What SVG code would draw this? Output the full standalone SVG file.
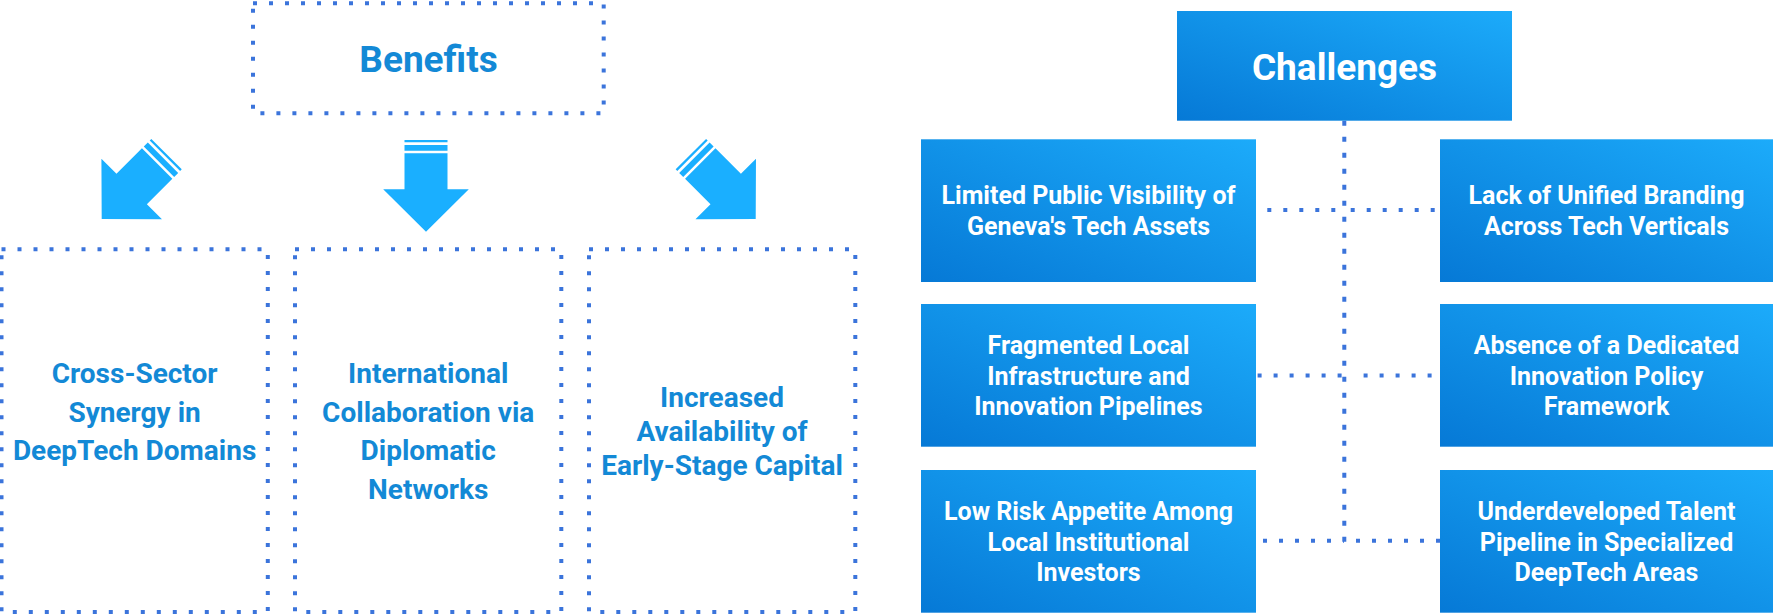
<svg xmlns="http://www.w3.org/2000/svg" width="1773" height="616" viewBox="0 0 1773 616">
<defs>
<linearGradient id="bg" x1="0" y1="1" x2="1" y2="0">
<stop offset="0" stop-color="#0679d6"/>
<stop offset="1" stop-color="#1cabfa"/>
</linearGradient>
<path id="arrow" d="M-21.5,-78.4 H21.5 V-42.4 H42.8 L0,0 L-42.8,-42.4 H-21.5 Z M-21.5,-86.7 H21.5 V-81 H-21.5 Z M-21.5,-91.7 H21.5 V-89.4 H-21.5 Z"/>
<style>
.dot{fill:none;stroke:#3b74db;stroke-width:4;stroke-dasharray:4 12}
.vdot{fill:none;stroke:#3b74db;stroke-width:4;stroke-dasharray:5 11}
.btxt{font-family:Roboto,"Liberation Sans",sans-serif;font-weight:700;fill:#1389d6;text-anchor:middle}
.ctxt{font-family:Roboto,"Liberation Sans",sans-serif;font-weight:700;fill:#ffffff;text-anchor:middle}
.arr{fill:#1aafff}
.box{fill:url(#bg)}
</style>
</defs>
<rect width="1773" height="616" fill="#ffffff"/>

<g id="connectors">
<use href="#arrow" class="arr" transform="translate(101.7,219) rotate(45)"/>
<use href="#arrow" class="arr" transform="translate(426,231.7)"/>
<use href="#arrow" class="arr" transform="translate(755.7,219) rotate(-45)"/>
<line class="vdot" x1="1344.3" y1="120.8" x2="1344.3" y2="542"/>
<line class="dot" x1="1267.3" y1="210" x2="1344" y2="210"/>
<line class="dot" x1="1350.7" y1="210" x2="1440" y2="210"/>
<line class="dot" x1="1257.6" y1="375.5" x2="1344" y2="375.5"/>
<line class="dot" x1="1363.6" y1="375.5" x2="1440" y2="375.5"/>
<line class="dot" x1="1263" y1="540.7" x2="1344" y2="540.7"/>
<line class="dot" x1="1356" y1="540.7" x2="1440" y2="540.7"/>
</g>

<g id="benefits">
<rect class="dot" x="253" y="3.3" width="350.7" height="110"/>
<text class="btxt" x="428.5" y="71.7" font-size="37">Benefits</text>
</g>

<g id="benefit1">
<rect class="dot" x="1.5" y="249.3" width="266.3" height="362.7"/>
<text class="btxt" font-size="28"><tspan x="134.6" y="382.7">Cross-Sector</tspan><tspan x="134.6" y="421.5">Synergy in</tspan><tspan x="134.6" y="460">DeepTech Domains</tspan></text>
</g>

<g id="benefit2">
<rect class="dot" x="295" y="249.3" width="266.3" height="362.7"/>
<text class="btxt" font-size="28"><tspan x="428.2" y="382.7">International</tspan><tspan x="428.2" y="421.5">Collaboration via</tspan><tspan x="428.2" y="460">Diplomatic</tspan><tspan x="428.2" y="498.5">Networks</tspan></text>
</g>

<g id="benefit3">
<rect class="dot" x="589" y="249.3" width="266.3" height="362.7"/>
<text class="btxt" font-size="28"><tspan x="722" y="407.3">Increased</tspan><tspan x="722" y="441.2">Availability of</tspan><tspan x="722" y="475">Early-Stage Capital</tspan></text>
</g>

<g id="challenges">
<rect class="box" x="1177" y="11" width="335" height="109.7"/>
<text class="ctxt" x="1344.5" y="80" font-size="37">Challenges</text>
</g>

<g id="c1">
<rect class="box" x="921" y="139.3" width="335" height="142.7"/>
<text class="ctxt" font-size="25"><tspan x="1088.5" y="204">Limited Public Visibility of</tspan><tspan x="1088.5" y="234.7">Geneva's Tech Assets</tspan></text>
</g>
<g id="c2">
<rect class="box" x="1440" y="139.3" width="333" height="142.7"/>
<text class="ctxt" font-size="25"><tspan x="1606.5" y="204">Lack of Unified Branding</tspan><tspan x="1606.5" y="234.7">Across Tech Verticals</tspan></text>
</g>
<g id="c3">
<rect class="box" x="921" y="304" width="335" height="142.7"/>
<text class="ctxt" font-size="25"><tspan x="1088.5" y="353.8">Fragmented Local</tspan><tspan x="1088.5" y="384.5">Infrastructure and</tspan><tspan x="1088.5" y="415.2">Innovation Pipelines</tspan></text>
</g>
<g id="c4">
<rect class="box" x="1440" y="304" width="333" height="142.7"/>
<text class="ctxt" font-size="25"><tspan x="1606.5" y="353.8">Absence of a Dedicated</tspan><tspan x="1606.5" y="384.5">Innovation Policy</tspan><tspan x="1606.5" y="415.2">Framework</tspan></text>
</g>
<g id="c5">
<rect class="box" x="921" y="470" width="335" height="142.7"/>
<text class="ctxt" font-size="25"><tspan x="1088.5" y="519.8">Low Risk Appetite Among</tspan><tspan x="1088.5" y="550.5">Local Institutional</tspan><tspan x="1088.5" y="581.2">Investors</tspan></text>
</g>
<g id="c6">
<rect class="box" x="1440" y="470" width="333" height="142.7"/>
<text class="ctxt" font-size="25"><tspan x="1606.5" y="519.8">Underdeveloped Talent</tspan><tspan x="1606.5" y="550.5">Pipeline in Specialized</tspan><tspan x="1606.5" y="581.2">DeepTech Areas</tspan></text>
</g>
</svg>
